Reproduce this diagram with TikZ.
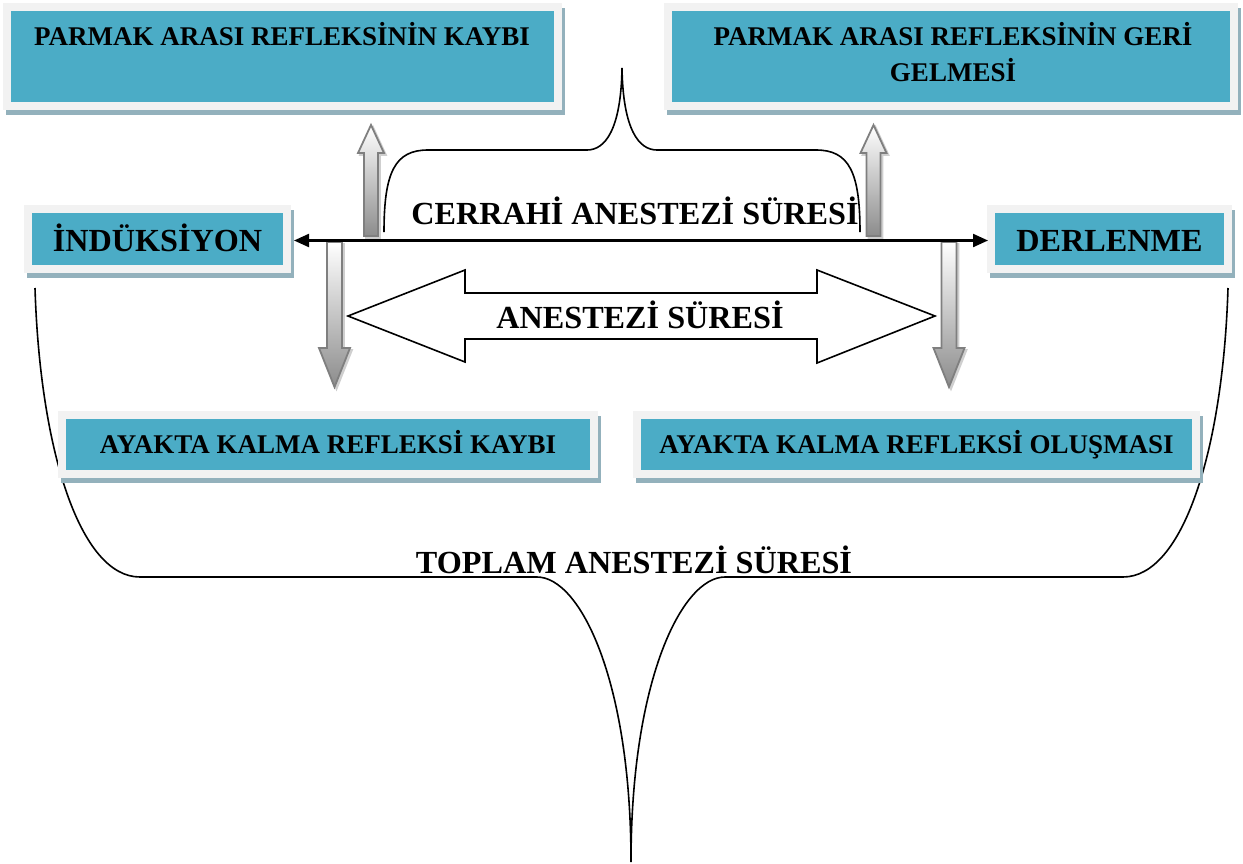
\documentclass[tikz,border=0pt]{standalone}
\usepackage{fontspec}
\setmainfont{Liberation Serif}
\usetikzlibrary{arrows.meta,shadows}
\definecolor{tealbox}{HTML}{4BACC6}
\definecolor{rimgray}{HTML}{F2F2F2}
\definecolor{shadowc}{HTML}{93B1BC}
\definecolor{arrowedge}{HTML}{7F7F7F}
\definecolor{arrowdark}{HTML}{8C8C8C}
\definecolor{arrowshadow}{HTML}{CFCFCF}
\tikzset{
  tbox/.style={draw=rimgray, line width=8pt, fill=tealbox, inner sep=0pt,
    drop shadow={shadow xshift=3pt, shadow yshift=-5pt, fill=shadowc, draw=shadowc, line width=8pt, opacity=1}},
  bigtxt/.style={font=\fontsize{32.2}{38}\selectfont\bfseries, inner sep=0pt},
  smalltxt/.style={font=\fontsize{27}{36}\selectfont\bfseries, inner sep=0pt},
  bracel/.style={draw=black, line width=1.6pt},
  blockarrow/.style={draw=black, line width=1.6pt, fill=white, line join=miter},
  gradarrow/.style={draw=arrowedge, line width=1.8pt, top color=white, bottom color=arrowdark, line join=miter},
  gradshadow/.style={fill=arrowshadow, draw=arrowshadow, line width=1.8pt},
  uparr/.pic={
    \path[gradshadow, shift={(2,2)}] (0,0) -- (13,28) -- (7,28) -- (7,111) -- (-7,111) -- (-7,28) -- (-13,28) -- cycle;
    \path[gradarrow] (0,0) -- (13,28) -- (7,28) -- (7,111) -- (-7,111) -- (-7,28) -- (-13,28) -- cycle;
  },
  downarr/.pic={
    \path[gradshadow, shift={(2,2)}] (0,0) -- (15.5,-39) -- (7.5,-39) -- (7.5,-145) -- (-7.5,-145) -- (-7.5,-39) -- (-15.5,-39) -- cycle;
    \path[gradarrow] (0,0) -- (15.5,-39) -- (7.5,-39) -- (7.5,-145) -- (-7.5,-145) -- (-7.5,-39) -- (-15.5,-39) -- cycle;
  }
}
\begin{document}
\begin{tikzpicture}[x=1pt, y=-1pt]
\useasboundingbox (0,0) rectangle (1243,863);

% braces
\draw[bracel] (384,232) .. controls (384,172) and (395,150) .. (428,150) -- (587,150)
  .. controls (605,150) and (621,130) .. (622,68)
  .. controls (623,130) and (639,150) .. (657,150) -- (816,150)
  .. controls (849,150) and (860,172) .. (860,232);
\draw[bracel] (35,288) .. controls (40,450) and (80,577) .. (140,577) -- (537,577)
  .. controls (580,577) and (631,680) .. (631,862)
  .. controls (631,680) and (682,577) .. (725,577) -- (1123,577)
  .. controls (1183,577) and (1223,450) .. (1228,288);

% block double arrow
\draw[blockarrow] (348,316) -- (465,270) -- (465,293) -- (817,293) -- (817,270) -- (935,316)
  -- (817,363) -- (817,339) -- (465,339) -- (465,362) -- cycle;

% gradient arrows
\pic at (371,125) {uparr};
\pic at (873.5,125) {uparr};
\pic at (334.5,387) {downarr};
\pic at (949,387) {downarr};

% boxes
\node[tbox, minimum width=551pt, minimum height=99pt] (pak) at (282.5,56.5) {};
\node[tbox, minimum width=566pt, minimum height=99pt] (pag) at (951,56.5) {};
\node[tbox, bigtxt, minimum width=259pt, minimum height=60pt, text height=25pt, text depth=0pt] (ind) at (157.5,239) {İNDÜKSİYON};
\node[tbox, bigtxt, minimum width=237pt, minimum height=60pt, text height=25pt, text depth=0pt] (der) at (1109.5,239) {DERLENME};
\node[tbox, smalltxt, minimum width=532pt, minimum height=59pt, text height=17.5pt, text depth=0pt] (ay1) at (328,444.5) {AYAKTA KALMA REFLEKSİ KAYBI};
\node[tbox, smalltxt, minimum width=559pt, minimum height=59pt, text height=17.5pt, text depth=0pt] (ay2) at (916.5,444.5) {AYAKTA KALMA REFLEKSİ OLUŞMASI};

% horizontal double arrow
\draw[line width=2.2pt, {Triangle[length=15pt,width=13pt]}-{Triangle[length=15pt,width=13pt]}]
  ([shift={(3,1.5)}]ind.east) -- ([shift={(1,1.5)}]der.west);

% texts
\node[smalltxt, anchor=base] (pakt) at (282,45) {PARMAK ARASI REFLEKSİNİN KAYBI};
\node[smalltxt, anchor=base] (pagt1) at (953,45) {PARMAK ARASI REFLEKSİNİN GERİ};
\node[smalltxt, anchor=base] (pagt2) at (953,81) {GELMESİ};
\node[bigtxt, anchor=base] (cer) at (635,224) {CERRAHİ ANESTEZİ SÜRESİ};
\node[bigtxt, anchor=base] (anest) at (640,328) {ANESTEZİ SÜRESİ};
\node[bigtxt, anchor=base] (toplam) at (634,573) {TOPLAM ANESTEZİ SÜRESİ};
\end{tikzpicture}
\end{document}
